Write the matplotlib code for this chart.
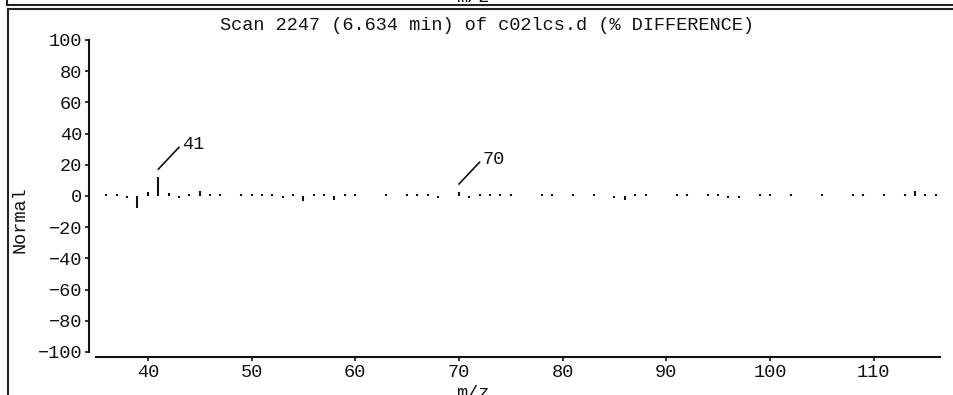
import matplotlib
matplotlib.use("Agg")
import matplotlib.pyplot as plt
from matplotlib.transforms import offset_copy
from matplotlib.lines import Line2D

plt.rcParams['font.family'] = ['Liberation Mono', 'DejaVu Sans Mono']

title = "Scan 2247 (6.634 min) of c02lcs.d (% DIFFERENCE)"
ylabel = "Normal"
xlabel = "m/z"

mz = [36, 37, 38, 39, 40, 41, 42, 43, 44, 45, 46, 47, 49, 50, 51, 52, 53, 54, 55, 56,
      57, 58, 59, 60, 63, 65, 66, 67, 68, 70, 71, 72, 73, 74, 75, 78, 79, 81, 83, 85,
      86, 87, 88, 91, 92, 94, 95, 96, 97, 99, 100, 102, 105, 108, 109, 111, 113, 114, 115, 116]
diff = [1, 1, -1.5, -8, 2.5, 12, 2, -1.5, 1, 3, 1, 1, 1, 1, 1, 1, -1.5, 1, -3, 1,
        1, -2.5, 1, 1, 1, 1, 1, 1, -1.5, 2.5, -1.5, 1, 1, 1, 1, 1, 1, 1, 1, -1.5,
        -2.5, 1, 1, 1, 1, 1, 1, -1.5, -1.5, 1, 1, 1, 1, 1, 1, 1, 1, 3, 1, 1]
labelled = [41, 70]

yticks = [-100, -80, -60, -40, -20, 0, 20, 40, 60, 80, 100]
xticks = [40, 50, 60, 70, 80, 90, 100, 110]

W, H = 954, 395
FS = 13.4
INK = '#111111'
fig = plt.figure(figsize=(W / 100, H / 100), dpi=100)
fig.patch.set_facecolor('white')


def fx(px):
    return px / W


def fy(py):
    return 1 - py / H


lw_frame = 1.5
fig.add_artist(Line2D([fx(7), fx(W)], [fy(5), fy(5)], color='#222222', lw=lw_frame))
fig.add_artist(Line2D([fx(7), fx(7)], [fy(0), fy(5)], color='#222222', lw=lw_frame))
fig.add_artist(Line2D([fx(8.5), fx(W)], [fy(9), fy(9)], color='#222222', lw=lw_frame))
fig.add_artist(Line2D([fx(8.5), fx(8.5)], [fy(9), fy(H)], color='#222222', lw=lw_frame))
fig.text(fx(473), fy(-3), xlabel, ha='center', va='center', fontsize=FS, color=INK)

ax = fig.add_axes([96 / W, (H - 352) / H, 844 / W, 312 / H])
ax.set_xlim(35, 116.4)
ax.set_ylim(-100, 100)

ax.vlines(mz, 0, diff, colors=INK, linewidth=1.5)

for spine in ['top', 'right']:
    ax.spines[spine].set_visible(False)
ax.spines['left'].set_position(('outward', 5))
ax.spines['left'].set_bounds(-100, 100)
ax.spines['bottom'].set_position(('outward', 3.6))
for spine in ['left', 'bottom']:
    ax.spines[spine].set_linewidth(1.5)
    ax.spines[spine].set_color(INK)

ax.set_yticks(yticks)
ax.set_xticks(xticks)
ax.tick_params(axis='both', direction='out', length=3, width=1.2, colors=INK,
               labelsize=FS, pad=2)

# labels for selected peaks
for m in labelled:
    v = diff[mz.index(m)]
    start = offset_copy(ax.transData, fig=fig, x=0, y=8, units='dots')
    ax.annotate(str(m), xy=(m, v), xycoords=start,
                xytext=(17, 18), textcoords='offset points',
                ha='left', va='center', fontsize=FS, color=INK,
                arrowprops=dict(arrowstyle='-', color=INK, lw=1.2,
                                shrinkA=0, shrinkB=0, relpos=(0, 0.5)))

fig.text(fx(487), fy(25), title, ha='center', va='center', fontsize=FS, color=INK)
fig.text(fx(20), fy(220), ylabel, ha='center', va='center', rotation=90,
         fontsize=FS, color=INK)
fig.text(fx(473), fy(394), xlabel, ha='center', va='center', fontsize=FS, color=INK)

fig.savefig('out.png', dpi=100, facecolor='white')
